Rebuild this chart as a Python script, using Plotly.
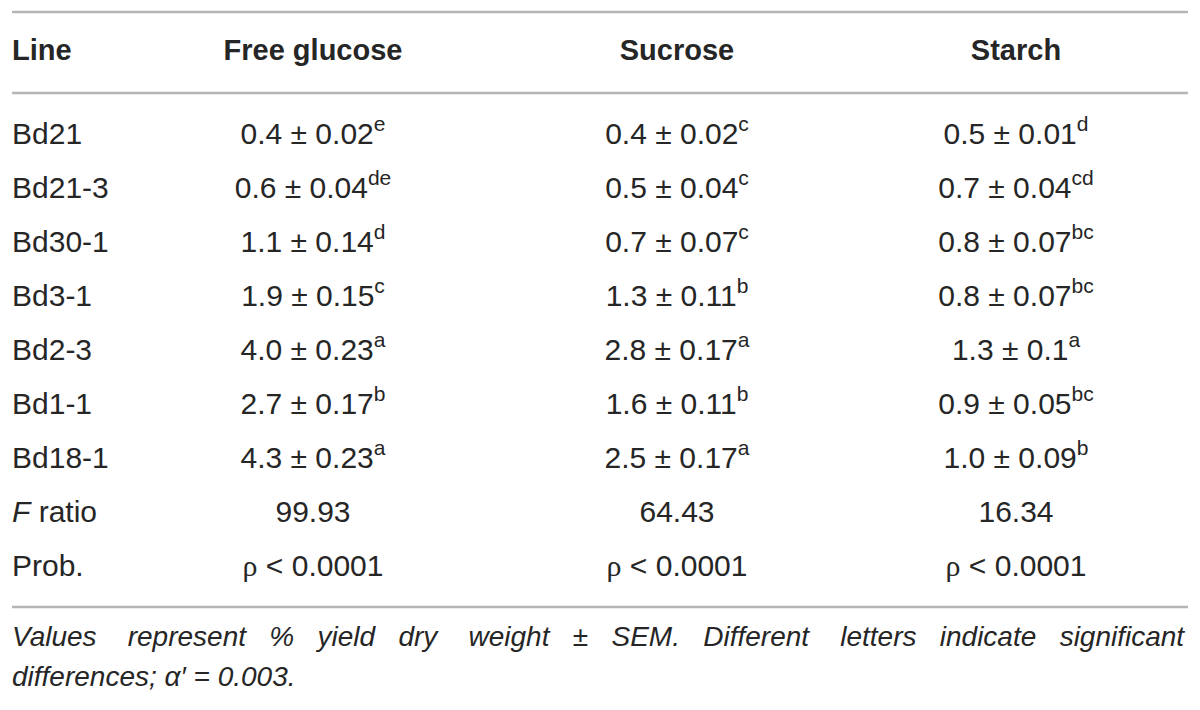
import plotly.graph_objects as go

# ---------------- data ----------------
lines = ["Bd21", "Bd21-3", "Bd30-1", "Bd3-1", "Bd2-3", "Bd1-1", "Bd18-1"]
headers = ["Line", "Free glucose", "Sucrose", "Starch"]

glucose_mean = [0.4, 0.6, 1.1, 1.9, 4.0, 2.7, 4.3]
glucose_sem = [0.02, 0.04, 0.14, 0.15, 0.23, 0.17, 0.23]
glucose_grp = ["e", "de", "d", "c", "a", "b", "a"]

sucrose_mean = [0.4, 0.5, 0.7, 1.3, 2.8, 1.6, 2.5]
sucrose_sem = [0.02, 0.04, 0.07, 0.11, 0.17, 0.11, 0.17]
sucrose_grp = ["c", "c", "c", "b", "a", "b", "a"]

starch_mean = [0.5, 0.7, 0.8, 0.8, 1.3, 0.9, 1.0]
starch_sem = [0.01, 0.04, 0.07, 0.07, 0.1, 0.05, 0.09]
starch_grp = ["d", "cd", "bc", "bc", "a", "bc", "b"]

f_ratio = [99.93, 64.43, 16.34]
prob_text = ["ρ < 0.0001", "ρ < 0.0001", "ρ < 0.0001"]

footnote_line1 = ["Values", "represent", "%", "yield", "dry", "weight", "±", "SEM.",
                  "Different", "letters", "indicate", "significant"]
footnote_line2 = "differences; α′ = 0.003."

# ---------------- layout constants ----------------
W, H = 1200, 710
X_LEFT, X_RIGHT = 12, 1188
COL_X = [12, 313, 677, 1016]
Y_HEADER = 53
Y_ROW0 = 136
ROW_STEP = 54
RULES = [12, 93, 607]
FOOT_Y = [639, 679]
TXT = "#262626"
FONT = "Liberation Sans"
FS = 30
FS_HEAD = 29
FS_FOOT = 28

def cell(m, s, g):
    return f"{m:.1f} ± {s:g}<sup>{g}</sup>"

rho = '<span style="font-family:Liberation Serif">ρ</span>'

col_glu = [cell(m, s, g) for m, s, g in zip(glucose_mean, glucose_sem, glucose_grp)]
col_suc = [cell(m, s, g) for m, s, g in zip(sucrose_mean, sucrose_sem, sucrose_grp)]
col_sta = [cell(m, s, g) for m, s, g in zip(starch_mean, starch_sem, starch_grp)]

n = len(lines)
row_y = [Y_ROW0 + ROW_STEP * i for i in range(n + 2)]

label_col = lines + ["<i>F</i> ratio", "Prob."]
value_cols = []
for k, col in enumerate([col_glu, col_suc, col_sta]):
    value_cols.append(col + [f"{f_ratio[k]:.2f}", prob_text[k].replace("ρ", rho)])

# justified first footnote line: widen gaps with non-breaking spaces
NB = "\u00a0"
gaps = [" " + NB * 2] * (len(footnote_line1) - 1)
for gi in (0, 4, 8):
    gaps[gi] += NB
foot1 = footnote_line1[0]
for w, g in zip(footnote_line1[1:], gaps):
    foot1 += g + w
footnote = [foot1, footnote_line2]

fig = go.Figure()

# header
fig.add_trace(go.Scatter(
    x=COL_X, y=[Y_HEADER] * 4, mode="text",
    text=[f"<b>{h}</b>" for h in headers],
    textposition=["middle right", "middle center", "middle center", "middle center"],
    textfont=dict(family=FONT, size=FS_HEAD, color=TXT),
    hoverinfo="skip", showlegend=False))

# line names
fig.add_trace(go.Scatter(
    x=[COL_X[0]] * len(label_col), y=row_y, mode="text", text=label_col,
    textposition="middle right",
    textfont=dict(family=FONT, size=FS, color=TXT),
    hoverinfo="skip", showlegend=False))

for k, col in enumerate(value_cols):
    fig.add_trace(go.Scatter(
        x=[COL_X[k + 1]] * len(col), y=row_y, mode="text", text=col,
        textposition="middle center",
        textfont=dict(family=FONT, size=FS, color=TXT),
        hoverinfo="skip", showlegend=False))

# footnote
fig.add_trace(go.Scatter(
    x=[X_LEFT, X_LEFT], y=FOOT_Y, mode="text",
    text=[f"<i>{t}</i>" for t in footnote],
    textposition="middle right",
    textfont=dict(family=FONT, size=FS_FOOT, color=TXT),
    hoverinfo="skip", showlegend=False))

for yr in RULES:
    fig.add_shape(type="line", x0=X_LEFT, x1=X_RIGHT, y0=yr, y1=yr,
                  line=dict(color="#b5b5b5", width=2.5))

fig.update_layout(
    width=W, height=H, margin=dict(l=0, r=0, t=0, b=0),
    paper_bgcolor="white", plot_bgcolor="white",
    xaxis=dict(range=[0, W], visible=False, fixedrange=True),
    yaxis=dict(range=[H, 0], visible=False, fixedrange=True),
)

fig.write_html("out.html", post_script="document.body.style.margin='0';",
               config={"displayModeBar": False})
